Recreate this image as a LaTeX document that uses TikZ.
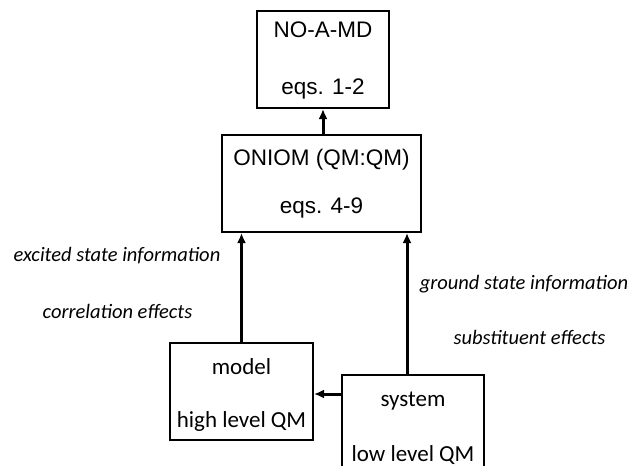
\documentclass[tikz,border=0pt]{standalone}
\usepackage{fontspec}
\setmainfont{Liberation Sans}
\newfontfamily\gillfont{Carlito}
\usetikzlibrary{arrows.meta}

\begin{document}
\begin{tikzpicture}[x=1pt, y=-1pt,
  box/.style={draw, line width=2pt, align=center, inner sep=0pt},
  lbl/.style={font=\gillfont\itshape\fontsize{20.5}{20.5}\selectfont, inner sep=0pt},
  flow/.style={->, line width=3pt, >={Latex[length=10pt,width=9pt]}}]

\useasboundingbox (0,0) rectangle (638,466);

\node[box, minimum width=132pt, minimum height=97pt,
  font=\fontsize{22.5}{22.5}\selectfont] (nomd) at (323,59.5) {\rule{0pt}{18pt}NO-A-MD\\[35pt]eqs. 1-2};
\node[box, minimum width=199pt, minimum height=97pt,
  font=\fontsize{22.5}{22.5}\selectfont] (oniom) at (321.5,183.5) {ONIOM (QM:QM)\\[26pt]eqs. 4-9};
\node[box, minimum width=143pt, minimum height=97pt,
  font=\gillfont\fontsize{23}{23}\selectfont] (model) at (241.5,391.5) {\rule{0pt}{22pt}model\\[30pt]high level QM};
\node[box, minimum width=142pt, minimum height=99pt,
  font=\gillfont\fontsize{23}{23}\selectfont] (system) at (413,424.5) {\rule{0pt}{22pt}system\\[32pt]low level QM};

\node[lbl] (excited) at (117,256) {excited state information};
\node[lbl] (corr) at (117.5,311) {correlation effects};
\node[lbl] (ground) at (524,284) {ground state information};
\node[lbl] (subst) at (529.5,337) {substituent effects};

\draw[flow] (oniom.north -| nomd.south) -- (nomd.south);
\draw[flow] (model.north) -- (model.north |- oniom.south);
\draw[flow] ([xshift=-6pt]system.north) -- ([xshift=-6pt]system.north |- oniom.south);
\draw[flow] ([yshift=-2.5pt]model.east -| system.west) -- ([yshift=-2.5pt]model.east);
\end{tikzpicture}
\end{document}
